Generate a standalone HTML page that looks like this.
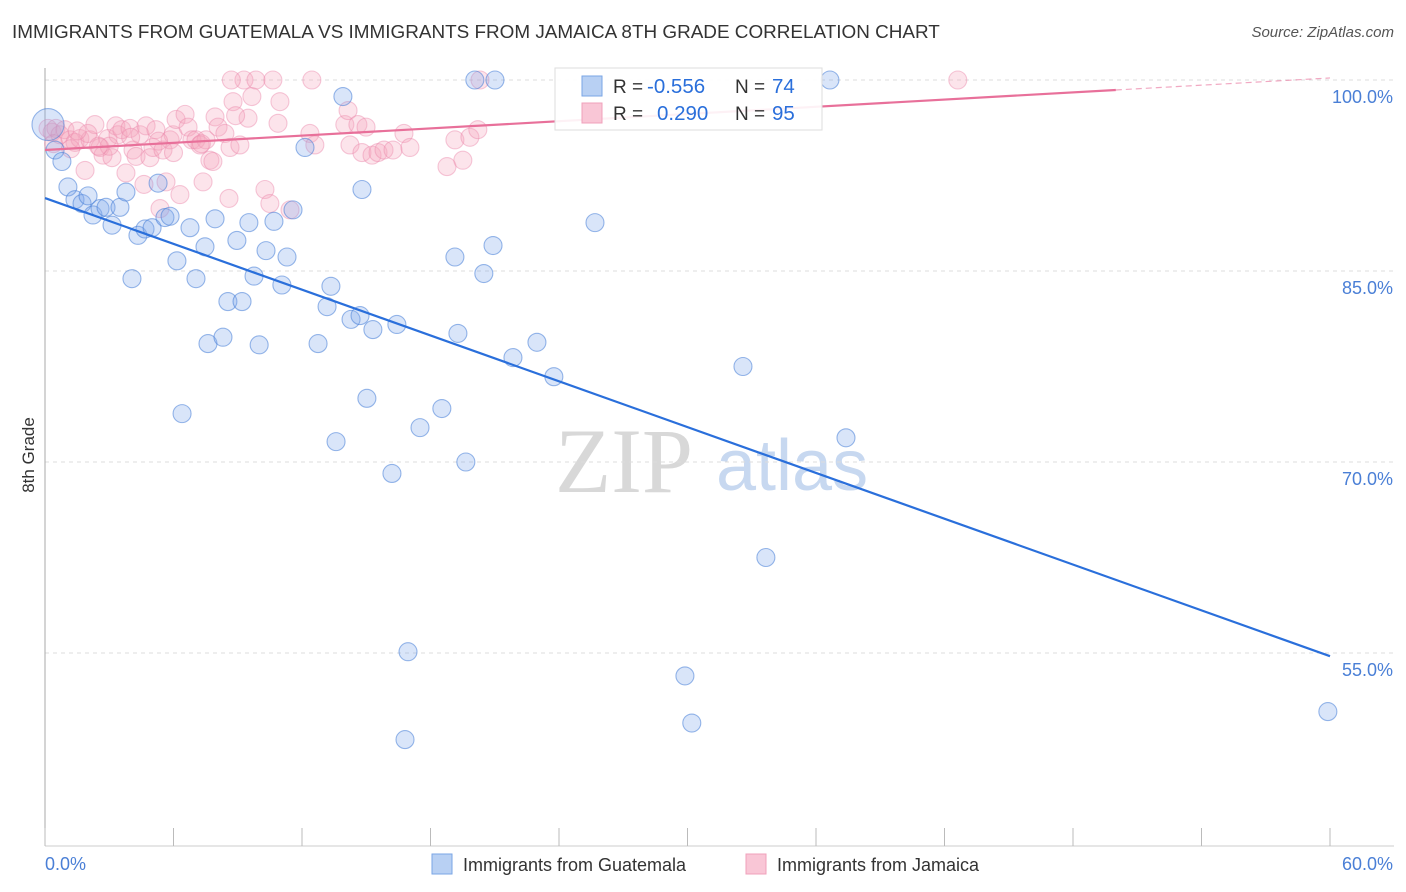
<!DOCTYPE html>
<html><head><meta charset="utf-8">
<style>
body{margin:0;background:#fff;font-family:"Liberation Sans",sans-serif;}
#wrap{position:relative;width:1406px;height:892px;overflow:hidden;}
.t{position:absolute;white-space:nowrap;}
</style></head>
<body>
<div id="wrap">
<div class="t" style="left:12px;top:22px;font-size:18.9px;color:#333;">IMMIGRANTS FROM GUATEMALA VS IMMIGRANTS FROM JAMAICA 8TH GRADE CORRELATION CHART</div>
<div class="t" style="right:12px;top:24px;font-size:15px;color:#555;font-style:italic;">Source: ZipAtlas.com</div>
<svg id="svg" width="1406" height="892" style="position:absolute;left:0;top:0"></svg>
</div>
<script>
const xTicks=[0,6,12,18,24,30,36,42,48,54,60];
const yTickVals=[100,85,70,55];
const yTickLabels=["100.0%","85.0%","70.0%","55.0%"];
const guatX=[0.14,0.47,0.79,1.07,1.4,1.73,2.01,2.24,2.57,2.85,3.13,3.5,3.78,4.06,4.34,4.67,5.0,5.28,5.6,5.84,6.16,6.4,6.77,7.05,7.47,7.61,7.94,8.31,8.54,8.96,9.2,9.52,9.76,10.0,10.32,10.69,11.06,11.3,11.58,12.14,12.75,13.17,13.35,13.59,13.91,14.29,14.71,14.8,15.03,15.31,16.2,16.43,16.95,16.81,17.51,18.53,19.14,19.28,19.65,20.07,20.49,20.92,21.01,21.85,22.97,23.76,25.68,29.88,30.2,32.59,33.66,36.65,37.4,59.9];
const guatY=[96.5,94.5,93.6,91.6,90.6,90.3,90.9,89.4,89.9,90.0,88.6,90.0,91.2,84.4,87.8,88.3,88.4,91.9,89.2,89.3,85.8,73.8,88.4,84.4,86.9,79.3,89.1,79.8,82.6,87.4,82.6,88.8,84.6,79.2,86.6,88.9,83.9,86.1,89.8,94.7,79.3,82.2,83.8,71.6,98.7,81.2,81.5,91.4,75.0,80.4,69.1,80.8,55.1,48.2,72.7,74.2,86.1,80.1,70.0,100,84.8,87.0,100,78.2,79.4,76.7,88.8,53.2,49.5,77.5,62.5,100,71.9,50.4];
const jamX=[0.14,0.33,0.51,0.7,0.93,1.17,1.4,1.63,1.87,2.1,2.33,2.57,2.71,2.94,3.13,3.31,3.41,3.59,3.78,3.97,4.11,4.25,4.44,4.62,4.72,4.9,5.04,5.18,5.37,5.51,5.65,5.84,5.98,6.12,6.3,6.54,6.68,6.86,7.05,7.24,7.38,7.52,7.7,7.84,7.94,8.08,8.4,8.59,8.64,8.78,9.1,9.29,9.48,9.66,9.85,10.27,10.5,10.64,10.88,10.97,11.44,12.46,12.37,12.6,14.0,14.15,14.24,14.61,14.8,14.99,15.27,15.55,15.83,16.25,16.76,17.04,18.77,19.14,19.51,19.84,20.21,20.31,42.62,8.7,8.9,0.4,1.2,2.0,3.0,4.0,5.3,6.0,7.3,1.5,2.5];
const jamY=[96.2,95.9,96.2,95.7,96.1,95.3,95.1,95.4,92.9,95.3,96.5,94.7,94.1,95.4,93.9,96.4,95.7,96.1,92.7,96.2,94.5,94.0,95.7,91.8,96.4,93.9,94.7,96.1,89.9,94.5,92.0,95.3,95.7,96.9,91.0,97.3,96.3,95.3,95.3,94.9,92.0,95.3,93.7,93.6,97.1,96.3,95.8,90.7,94.7,98.3,94.9,100,97.0,98.7,100,91.4,90.3,100,96.6,98.3,89.8,100,95.8,94.9,96.5,97.6,94.9,96.5,94.3,96.3,94.1,94.3,94.5,94.5,95.8,94.7,93.2,95.3,93.7,95.5,96.1,100,100,100,97.2,95.0,94.6,95.8,94.8,95.5,95.2,94.3,95.0,96.0,94.8];
const guatLine=[90.73,54.75];
const jamLine=[94.5,100.16];

const X=v=>45+v*(1285/60);
const Y=v=>80+(100-v)*(191/15);
const svg=document.getElementById('svg');
const NS='http://www.w3.org/2000/svg';
function mk(tag,attrs,parent){const e=document.createElementNS(NS,tag);for(const k in attrs)e.setAttribute(k,attrs[k]);(parent||svg).appendChild(e);return e;}

let wm=mk('text',{x:555,y:492,'font-size':92,'font-family':'Liberation Serif, serif',fill:'#d8d8d8'});
wm.textContent='ZIP';


let wm2=mk('text',{x:716,y:490,'font-size':72,'font-family':'Liberation Sans, sans-serif',fill:'#c7d8f0'});
wm2.textContent='atlas';



yTickVals.forEach((v,i)=>{
  let g=mk('line',{x1:45,x2:1394,y1:Y(v),y2:Y(v),stroke:'#dcdcdc','stroke-dasharray':'4,4'});
  
  
  let t=mk('text',{x:1393,y:Y(v)+23,'text-anchor':'end','font-size':18,fill:'#4a7fd6','font-family':'Liberation Sans, sans-serif'});
  t.textContent=yTickLabels[i];
  
  
});
let ax=mk('line',{x1:45,x2:45,y1:68,y2:846,stroke:'#aaa'});


let bx=mk('line',{x1:45,x2:1394,y1:846,y2:846,stroke:'#ccc'});


xTicks.forEach(v=>{
  let t=mk('line',{x1:X(v),x2:X(v),y1:828,y2:846,stroke:'#bbb'});
  
  
});
let xl0=mk('text',{x:45,y:870,'font-size':18,fill:'#4a7fd6','font-family':'Liberation Sans, sans-serif'});xl0.textContent='0.0%';


let xl1=mk('text',{x:1393,y:870,'text-anchor':'end','font-size':18,fill:'#4a7fd6','font-family':'Liberation Sans, sans-serif'});xl1.textContent='60.0%';


let yt=mk('text',{x:34,y:455,'text-anchor':'middle','font-size':17,fill:'#333',transform:'rotate(-90 34 455)','font-family':'Liberation Sans, sans-serif'});yt.textContent='8th Grade';



jamX.forEach((x,i)=>{
  let c=mk('circle',{cx:X(x),cy:Y(jamY[i]),r:9,fill:'rgba(246,165,190,0.3)',stroke:'rgba(235,135,170,0.45)','stroke-width':1.1});
  
  
});
guatX.forEach((x,i)=>{
  let c=mk('circle',{cx:X(x),cy:Y(guatY[i]),r:i===0?16:9,fill:'rgba(130,170,235,0.3)',stroke:'rgba(70,125,215,0.55)','stroke-width':1.1});
  
  
});
let gl=mk('line',{x1:X(0),y1:Y(guatLine[0]),x2:X(60),y2:Y(guatLine[1]),stroke:'#2a6fdb','stroke-width':2.2});


const jy=x=>jamLine[0]+(jamLine[1]-jamLine[0])*x/60;
let jl=mk('line',{x1:X(0),y1:Y(jy(0)),x2:X(50),y2:Y(jy(50)),stroke:'#e8709a','stroke-width':2.2});


let jd=mk('line',{x1:X(50),y1:Y(jy(50)),x2:X(60),y2:Y(jy(60)),stroke:'#e8709a','stroke-width':1.2,'stroke-dasharray':'6,4',opacity:0.6});



let lb=mk('rect',{x:555,y:68,width:267,height:62,fill:'rgba(255,255,255,0.9)',stroke:'#ddd'});


[['#b8d0f3','#7aa6e6','-0.556','74',86,647],['#f9c6d6','#f0a0bb','0.290','95',113,657]].forEach(r=>{
  let s=mk('rect',{x:582,y:r[4]-10,width:20,height:20,fill:r[0],stroke:r[1]});
  
  
  const parts=[['R =',613,'#333',19],[r[2],r[5],'#2a6fdb',20.5],['N =',735,'#333',19],[r[3],772,'#2a6fdb',20.5]];
  parts.forEach(p=>{
    let t=mk('text',{x:p[1],y:r[4]+7,'font-size':p[3],fill:p[2],'font-family':'Liberation Sans, sans-serif'});
    t.textContent=p[0];
    
    
  });
});
[['#b8d0f3','#7aa6e6','Immigrants from Guatemala',432],['#f9c6d6','#f0a0bb','Immigrants from Jamaica',746]].forEach(r=>{
  let s=mk('rect',{x:r[3],y:854,width:20,height:20,fill:r[0],stroke:r[1]});
  
  
  let t=mk('text',{x:r[3]+31,y:871,'font-size':18,fill:'#333','font-family':'Liberation Sans, sans-serif'});
  t.textContent=r[2];
  
  
});
</script>
</body></html>
